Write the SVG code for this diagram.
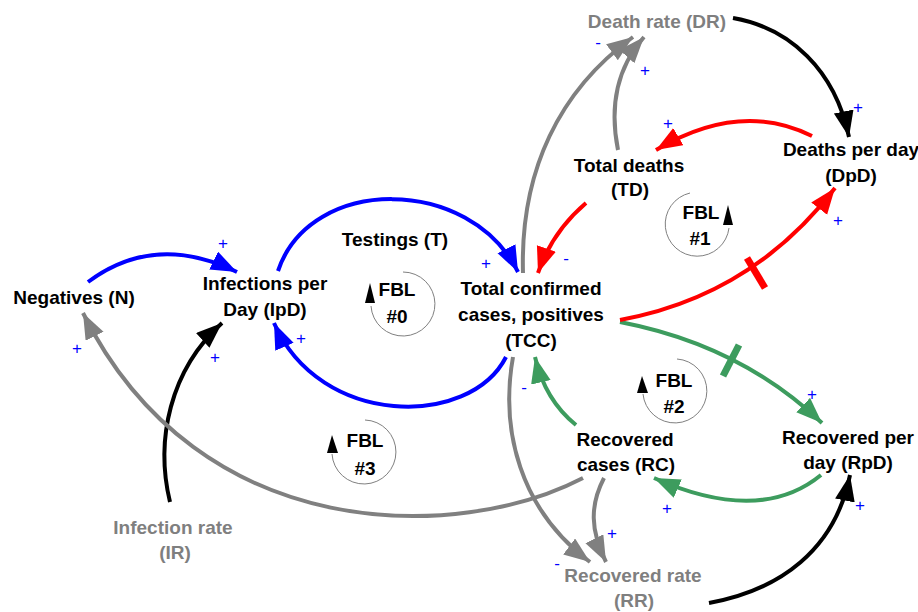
<svg xmlns="http://www.w3.org/2000/svg" width="918" height="612" viewBox="0 0 918 612">
<style>
.lbl{font-family:"Liberation Sans",Arial,sans-serif;font-weight:bold;font-size:19px;fill:#000;text-anchor:middle}
.g{fill:#7f7f7f}
.sg{font-family:"Liberation Sans",Arial,sans-serif;font-size:17px;fill:#0000ff;text-anchor:middle}
.c{fill:none;stroke-width:4}
.bar{stroke-width:7}
.blue{stroke:#0000ff}.red{stroke:#ff0000}.green{stroke:#3d9c5e}.gray{stroke:#808080}.black{stroke:#000}
.loop{fill:none;stroke:#808080;stroke-width:1}
</style>
<defs>
<marker id="aB" markerUnits="userSpaceOnUse" markerWidth="28" markerHeight="22" refX="26" refY="10" orient="auto"><path d="M0,0 L26,10 L0,20 z" fill="#0000ff"/></marker>
<marker id="aR" markerUnits="userSpaceOnUse" markerWidth="28" markerHeight="22" refX="26" refY="10" orient="auto"><path d="M0,0 L26,10 L0,20 z" fill="#ff0000"/></marker>
<marker id="aG" markerUnits="userSpaceOnUse" markerWidth="28" markerHeight="22" refX="26" refY="10" orient="auto"><path d="M0,0 L26,10 L0,20 z" fill="#3d9c5e"/></marker>
<marker id="aY" markerUnits="userSpaceOnUse" markerWidth="28" markerHeight="22" refX="26" refY="10" orient="auto"><path d="M0,0 L26,10 L0,20 z" fill="#808080"/></marker>
<marker id="aK" markerUnits="userSpaceOnUse" markerWidth="28" markerHeight="22" refX="26" refY="10" orient="auto"><path d="M0,0 L26,10 L0,20 z" fill="#000"/></marker>
</defs>
<rect width="918" height="612" fill="#fff"/>

<g id="connectors">
<path class="c blue" d="M88,282 Q155,232 237,272" marker-end="url(#aB)"/>
<path class="c blue" d="M278,271 C310,175 470,175 518,272" marker-end="url(#aB)"/>
<path class="c blue" d="M506,357 C470,428 320,428 274,323" marker-end="url(#aB)"/>
<path class="c black" d="M170,502 C155,440 170,370 222,323" marker-end="url(#aK)"/>
<path class="c gray" d="M583,478 C460,542 200,548 83,313" marker-end="url(#aY)"/>
<path class="c gray" d="M604,478 C590,505 590,530 606,562" marker-end="url(#aY)"/>
<path class="c gray" d="M513,357 C500,430 520,510 590,562" marker-end="url(#aY)"/>
<path class="c green" d="M576,425 Q545,400 535,357" marker-end="url(#aG)"/>
<path class="c green" d="M620,322 Q740,345 822,423" marker-end="url(#aG)"/>
<line class="c green bar" x1="723" y1="376" x2="739" y2="345"/>
<path class="c green" d="M821,475 Q760,525 654,478" marker-end="url(#aG)"/>
<path class="c black" d="M709,603 C780,590 835,550 850,475" marker-end="url(#aK)"/>
<path class="c red" d="M620,320 Q752,296 835,188" marker-end="url(#aR)"/>
<line class="c red bar" x1="747" y1="258" x2="765" y2="288"/>
<path class="c red" d="M812,136 Q740,100 656,150" marker-end="url(#aR)"/>
<path class="c red" d="M586,203 Q552,232 538,273" marker-end="url(#aR)"/>
<path class="c gray" d="M618,150 C610,110 615,70 644,37" marker-end="url(#aY)"/>
<path class="c gray" d="M523,273 C520,170 560,90 633,37" marker-end="url(#aY)"/>
<path class="c black" d="M733,18 C790,28 835,70 849,137" marker-end="url(#aK)"/>
</g>

<g id="signs">
<text class="sg" x="223" y="249">+</text>
<text class="sg" x="486" y="269">+</text>
<text class="sg" x="301" y="344">+</text>
<text class="sg" x="215" y="363">+</text>
<text class="sg" x="77" y="354">+</text>
<text class="sg" x="612" y="539">+</text>
<text class="sg" x="557" y="569">-</text>
<text class="sg" x="524" y="393">-</text>
<text class="sg" x="812" y="400">+</text>
<text class="sg" x="667" y="514">+</text>
<text class="sg" x="860" y="511">+</text>
<text class="sg" x="838" y="226">+</text>
<text class="sg" x="668" y="129">+</text>
<text class="sg" x="566" y="264">-</text>
<text class="sg" x="645" y="76">+</text>
<text class="sg" x="598" y="48">-</text>
<text class="sg" x="858" y="113">+</text>
</g>

<g id="DR"><text class="lbl g" x="657" y="28">Death rate (DR)</text></g>
<g id="TD"><text class="lbl" x="629" y="172">Total deaths</text><text class="lbl" x="630" y="196">(TD)</text></g>
<g id="DpD"><text class="lbl" x="851" y="156">Deaths per day</text><text class="lbl" x="851" y="182">(DpD)</text></g>
<g id="IpD"><text class="lbl" x="265" y="290">Infections per</text><text class="lbl" x="265" y="316">Day (IpD)</text></g>
<g id="N"><text class="lbl" x="74" y="304">Negatives (N)</text></g>
<g id="T"><text class="lbl" x="395" y="246">Testings (T)</text></g>
<g id="TCC"><text class="lbl" x="531" y="295">Total confirmed</text><text class="lbl" x="531" y="321">cases, positives</text><text class="lbl" x="531" y="347">(TCC)</text></g>
<g id="RC"><text class="lbl" x="625" y="446">Recovered</text><text class="lbl" x="626" y="471">cases (RC)</text></g>
<g id="RpD"><text class="lbl" x="848" y="444">Recovered per</text><text class="lbl" x="848" y="469">day (RpD)</text></g>
<g id="RR"><text class="lbl g" x="633" y="582">Recovered rate</text><text class="lbl g" x="634" y="607">(RR)</text></g>
<g id="IR"><text class="lbl g" x="173" y="534">Infection rate</text><text class="lbl g" x="175" y="559">(IR)</text></g>

<g id="FBL0">
<path class="loop" d="M403,272 A32,32 0 1 1 371,306"/>
<polygon points="365,303 375,303 370,283" fill="#000"/>
<text class="lbl" x="397" y="296">FBL</text><text class="lbl" x="397" y="323">#0</text>
</g>
<g id="FBL1">
<path class="loop" d="M690,193 A32,32 0 1 0 729,228"/>
<polygon points="723,225 733,225 728,205" fill="#000"/>
<text class="lbl" x="701" y="219">FBL</text><text class="lbl" x="700" y="245">#1</text>
</g>
<g id="FBL2">
<path class="loop" d="M677,359 A32,32 0 1 1 643,394"/>
<polygon points="637,393 648,393 642,376" fill="#000"/>
<text class="lbl" x="674" y="387">FBL</text><text class="lbl" x="674" y="413">#2</text>
</g>
<g id="FBL3">
<path class="loop" d="M365,420 A32,32 0 1 1 332,454"/>
<polygon points="327,453 338,453 332,435" fill="#000"/>
<text class="lbl" x="365" y="447">FBL</text><text class="lbl" x="365" y="475">#3</text>
</g>
</svg>
